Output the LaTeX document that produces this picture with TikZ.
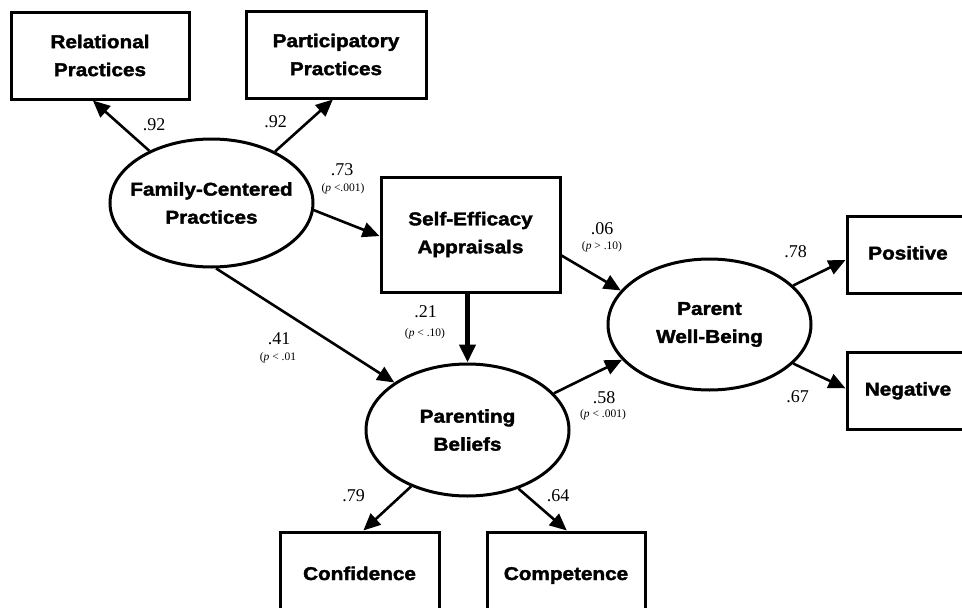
\documentclass[tikz,border=0pt]{standalone}
\usepackage{fontspec}
\setmainfont{Liberation Serif}
\newfontfamily\heavy{Liberation Sans Bold}[FakeStretch=1.12,FakeBold=2]
\usetikzlibrary{arrows.meta,shapes.geometric}
\begin{document}
\begin{tikzpicture}[x=1pt,y=-1pt,
  lbl/.style={font=\heavy\fontsize{18.5}{28}\selectfont,align=center},
  box/.style={lbl,draw,line width=3pt,inner sep=0pt},
  onebox/.style={box,text height=13.5pt,text depth=3.5pt},
  ell/.style={lbl,draw,ellipse,line width=3pt,inner sep=0pt,inner xsep=-14pt,minimum width=203pt},
  coef/.style={font=\fontsize{18}{20}\selectfont,inner sep=0pt},
  pval/.style={font=\fontsize{11.5}{12}\selectfont,inner sep=0pt},
  conn/.style={line width=2.6pt,-{Triangle[length=17pt,width=15pt]}},
  thick conn/.style={line width=4.6pt,-{Triangle[length=18pt,width=16pt]}}]
\useasboundingbox (0,0) rectangle (962,608);
\clip (0,0) rectangle (962,608);
% boxes
\node[box,minimum width=178pt,minimum height=87pt] (rel) at (100,55.5) {Relational\\Practices};
\node[box,minimum width=180pt,minimum height=87pt] (part) at (336,54.5) {Participatory\\Practices};
\node[box,minimum width=179pt,minimum height=115pt] (se) at (470.5,234.5) {Self-Efficacy\\Appraisals};
\node[onebox,minimum width=122pt,minimum height=77pt] (pos) at (908,254.5) {Positive};
\node[onebox,minimum width=122pt,minimum height=77pt] (neg) at (908,390.5) {Negative};
\node[onebox,minimum width=159pt,minimum height=86pt] (conf) at (359.5,575) {Confidence};
\node[onebox,minimum width=158pt,minimum height=86pt] (comp) at (566,575) {Competence};
% ellipses
\node[ell,minimum height=128pt] (fcp) at (211.5,203) {Family-Centered\\Practices};
\node[ell,minimum height=131pt] (pwb) at (709.5,324.5) {Parent\\Well-Being};
\node[ell,minimum height=132pt] (pb) at (467.5,430) {Parenting\\Beliefs};
% connectors
\draw[conn] (fcp.140) -- (rel.261);
\draw[conn] (fcp.39) -- (part.266);
\draw[conn] (fcp.356) -- (se.181.6);
\draw[conn] (fcp.274) -- (pb.147);
\draw[thick conn] (se.south -| pb.north) -- (pb.north);
\draw[conn] (se.347.7) -- (pwb.159.6);
\draw[conn] (pb.23.4) -- (pwb.202);
\draw[conn] (pwb.25.6) -- (pos.185);
\draw[conn] (pwb.335.6) -- (neg.178.6);
\draw[conn] (pb.225.8) -- (conf.85.5);
\draw[conn] (pb.311) -- (comp.89);
% coefficients
\node[coef] (c1) at (154,125) {.92};
\node[coef] (c2) at (275.5,122) {.92};
\node[coef] (c3) at (342,170) {.73};
\node[pval] (p3) at (343,189) {(\textit{p} <.001)};
\node[coef] (c4) at (602,228.5) {.06};
\node[pval] (p4) at (602,247) {(\textit{p} > .10)};
\node[coef] (c5) at (795.5,252) {.78};
\node[coef] (c6) at (425.5,312) {.21};
\node[pval] (p6) at (425,334) {(\textit{p} < .10)};
\node[coef] (c7) at (279,339) {.41};
\node[pval] (p7) at (278,358) {(\textit{p} < .01};
\node[coef] (c8) at (604,397.5) {.58};
\node[pval] (p8) at (603,415) {(\textit{p} < .001)};
\node[coef] (c9) at (797.5,396.5) {.67};
\node[coef] (c10) at (353.5,496) {.79};
\node[coef] (c11) at (558,496) {.64};
\end{tikzpicture}
\end{document}
